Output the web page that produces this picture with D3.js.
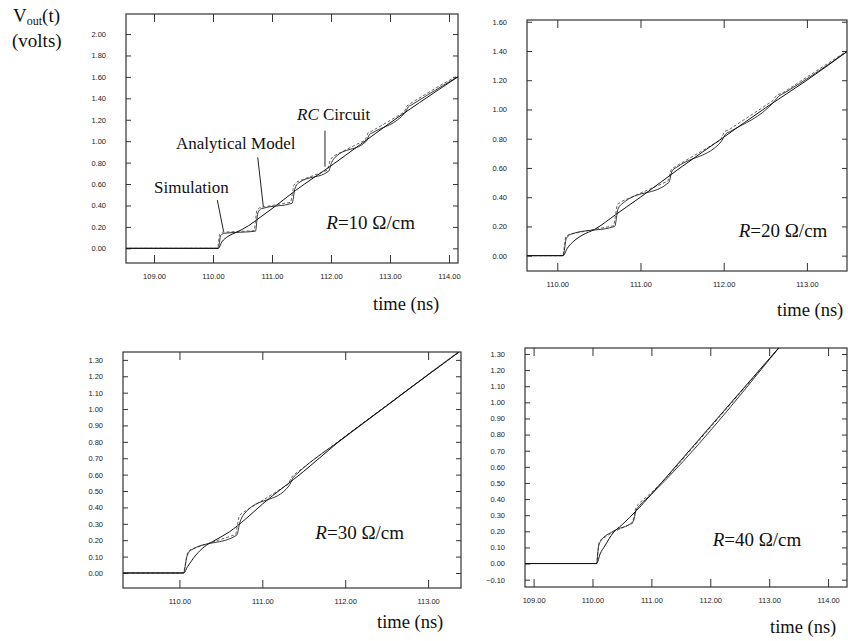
<!DOCTYPE html>
<html lang="en">
<head>
    <meta charset="utf-8">
    <style type="text/css">
        body { margin: 0; background: #fff; }
        .tick text { font-family: "Liberation Sans", Arial, sans-serif; font-size: 7.5px; fill: #222; }
        .tick line { stroke: #333; stroke-width: 1; }
        .frame { fill: none; stroke: #333; stroke-width: 1.2; }
        .big { font-family: "Liberation Serif", "Times New Roman", serif; fill: #111; }
    </style>
</head>
<body>
    <svg width="848" height="641"></svg>
    <script src="https://d3js.org/d3.v7.min.js" type="text/javascript"></script>
    <script type="text/javascript">
        // ---- data (time in ns, Vout in volts) ----
        var xTicks10 = [109, 110, 111, 112, 113, 114];
        var yTicks10 = [0, 0.2, 0.4, 0.6, 0.8, 1.0, 1.2, 1.4, 1.6, 1.8, 2.0];
        var rc10 = [[108.5, 0], [110.09, 0], [110.15, 0.06], [110.25, 0.11], [110.4, 0.15], [110.6, 0.21], [110.8, 0.29],
            [111.0, 0.37], [111.4, 0.54], [112.0, 0.77], [112.5, 0.97], [113.0, 1.17], [113.5, 1.36], [114.15, 1.6]];
        var analytical10 = [[108.5, 0], [110.09, 0], [110.13, 0.12], [110.19, 0.14], [110.72, 0.16], [110.76, 0.33], [110.82, 0.37],
            [111.34, 0.42], [111.39, 0.56], [111.45, 0.61], [111.96, 0.72], [112.01, 0.8], [112.07, 0.85],
            [112.6, 1.0], [112.65, 1.06], [112.71, 1.08], [113.26, 1.27], [113.31, 1.32], [113.37, 1.34], [113.9, 1.52], [114.15, 1.6]];
        var simulation10 = [[108.5, 0], [110.08, 0], [110.11, 0.13], [110.16, 0.15], [110.70, 0.165], [110.74, 0.35], [110.79, 0.38],
            [111.32, 0.43], [111.37, 0.59], [111.42, 0.62], [111.94, 0.73], [111.99, 0.83], [112.04, 0.86],
            [112.58, 1.01], [112.63, 1.08], [112.68, 1.09], [113.24, 1.27], [113.29, 1.33], [113.34, 1.35], [113.88, 1.53], [114.15, 1.61]];

        var xTicks20 = [110, 111, 112, 113];
        var yTicks20 = [0, 0.2, 0.4, 0.6, 0.8, 1.0, 1.2, 1.4, 1.6];
        var rc20 = [[109.6, 0], [110.07, 0], [110.12, 0.05], [110.2, 0.1], [110.3, 0.14], [110.45, 0.18], [110.7, 0.28],
            [111.0, 0.40], [111.5, 0.61], [112.0, 0.81], [112.5, 1.01], [113.0, 1.20], [113.48, 1.395]];
        var analytical20 = [[109.6, 0], [110.07, 0], [110.11, 0.12], [110.18, 0.15], [110.69, 0.2], [110.73, 0.32], [110.79, 0.36],
            [111.34, 0.5], [111.38, 0.58], [111.45, 0.61], [111.97, 0.78], [112.02, 0.83], [112.08, 0.85],
            [112.6, 1.05], [112.66, 1.09], [112.72, 1.11], [113.48, 1.395]];
        var simulation20 = [[109.6, 0], [110.07, 0], [110.1, 0.13], [110.14, 0.145], [110.68, 0.205], [110.72, 0.35], [110.77, 0.37],
            [111.33, 0.51], [111.37, 0.59], [111.42, 0.61], [111.96, 0.79], [112.01, 0.85], [112.06, 0.86],
            [112.59, 1.06], [112.64, 1.1], [112.7, 1.11], [113.48, 1.4]];

        var xTicks30 = [110, 111, 112, 113];
        var yTicks30 = [0, 0.1, 0.2, 0.3, 0.4, 0.5, 0.6, 0.7, 0.8, 0.9, 1.0, 1.1, 1.2, 1.3];
        var rc30 = [[109.3, 0], [110.05, 0], [110.1, 0.04], [110.2, 0.11], [110.3, 0.16], [110.43, 0.2], [110.6, 0.25], [110.8, 0.33],
            [111.0, 0.42], [111.5, 0.62], [111.92, 0.8], [112.5, 1.02], [113.0, 1.21], [113.37, 1.347]];
        var analytical30 = [[109.3, 0], [110.05, 0], [110.09, 0.1], [110.14, 0.14], [110.69, 0.23], [110.73, 0.31], [110.78, 0.36],
            [111.32, 0.53], [111.37, 0.58], [111.43, 0.61], [112.0, 0.83], [113.37, 1.347]];
        var simulation30 = [[109.3, 0], [110.05, 0], [110.1, 0.13], [110.14, 0.145], [110.68, 0.235], [110.72, 0.35], [110.77, 0.37],
            [111.31, 0.54], [111.36, 0.59], [111.42, 0.615], [112.0, 0.835], [113.37, 1.35]];

        var xTicks40 = [109, 110, 111, 112, 113, 114];
        var yTicks40 = [-0.1, 0, 0.1, 0.2, 0.3, 0.4, 0.5, 0.6, 0.7, 0.8, 0.9, 1.0, 1.1, 1.2, 1.3];
        var rc40 = [[108.85, 0], [110.07, 0], [110.13, 0.06], [110.21, 0.11], [110.35, 0.19], [110.5, 0.24], [110.75, 0.33],
            [111.0, 0.43], [111.5, 0.64], [112.0, 0.85], [112.5, 1.06], [113.0, 1.27], [113.16, 1.337]];
        var analytical40 = [[108.85, 0], [110.07, 0], [110.1, 0.1], [110.14, 0.14], [110.35, 0.2], [110.69, 0.26], [110.74, 0.33],
            [110.8, 0.36], [111.0, 0.43], [113.16, 1.337]];
        var simulation40 = [[108.85, 0], [110.07, 0], [110.11, 0.13], [110.15, 0.15], [110.35, 0.195], [110.68, 0.25], [110.73, 0.34],
            [110.78, 0.37], [111.0, 0.44], [111.3, 0.55], [111.35, 0.57], [113.17, 1.337]];

        var rLabels = ["10", "20", "30", "40"];

        // panel frames (pixels) and visible data range
        var panels = [
            { box: [126, 14, 458, 263], xd: [108.525, 114.153], yd: [-0.137, 2.187], xt: xTicks10, yt: yTicks10,
              rc: rc10, an: analytical10, sim: simulation10, r: rLabels[0], rPos: [111.92, 0.18], timePos: [373, 310] },
            { box: [527, 20, 847, 271], xd: [109.636, 113.482], yd: [-0.105, 1.612], xt: xTicks20, yt: yTicks20,
              rc: rc20, an: analytical20, sim: simulation20, r: rLabels[1], rPos: [112.18, 0.13], timePos: [777, 316] },
            { box: [123, 352, 461, 588], xd: [109.319, 113.397], yd: [-0.0915, 1.348], xt: xTicks30, yt: yTicks30,
              rc: rc30, an: analytical30, sim: simulation30, r: rLabels[2], rPos: [111.64, 0.21], timePos: [377, 628] },
            { box: [525, 348, 847, 587], xd: [108.854, 114.321], yd: [-0.1455, 1.337], xt: xTicks40, yt: yTicks40,
              rc: rc40, an: analytical40, sim: simulation40, r: rLabels[3], rPos: [112.04, 0.11], timePos: [770, 633] }
        ];

        var svg = d3.select("svg");
        var fmt = d3.format(".2f");

        panels.forEach(function (p, i) {
            var x0 = p.box[0], y0 = p.box[1], x1 = p.box[2], y1 = p.box[3];
            var x = d3.scaleLinear().domain(p.xd).range([x0, x1]);
            var y = d3.scaleLinear().domain(p.yd).range([y1, y0]);
            p.x = x; p.y = y;

            svg.append("clipPath").attr("id", "clip" + i)
                .append("rect").attr("x", x0).attr("y", y0).attr("width", x1 - x0).attr("height", y1 - y0);

            // inward ticks on all four sides
            svg.append("g").attr("transform", "translate(0," + y1 + ")")
                .call(d3.axisBottom(x).tickValues(p.xt).tickSizeInner(-8).tickSizeOuter(0).tickPadding(10.5).tickFormat(fmt))
                .call(function (g) { g.select(".domain").remove(); });
            svg.append("g").attr("transform", "translate(0," + y0 + ")")
                .call(d3.axisTop(x).tickValues(p.xt).tickSizeInner(-8).tickSizeOuter(0).tickFormat(""))
                .call(function (g) { g.select(".domain").remove(); });
            svg.append("g").attr("transform", "translate(" + x0 + ",0)")
                .call(d3.axisLeft(y).tickValues(p.yt).tickSizeInner(-5).tickSizeOuter(0).tickPadding(20).tickFormat(fmt))
                .call(function (g) { g.select(".domain").remove(); });
            svg.append("g").attr("transform", "translate(" + x1 + ",0)")
                .call(d3.axisRight(y).tickValues(p.yt).tickSizeInner(-5).tickSizeOuter(0).tickFormat(""))
                .call(function (g) { g.select(".domain").remove(); });

            svg.append("rect").attr("class", "frame")
                .attr("x", x0).attr("y", y0).attr("width", x1 - x0).attr("height", y1 - y0);

            var line = d3.line().x(function (d) { return x(d[0]); }).y(function (d) { return y(d[1]); });
            var curves = svg.append("g").attr("clip-path", "url(#clip" + i + ")").attr("fill", "none");

            curves.append("path").datum(p.sim)
                .attr("d", line)
                .attr("stroke", "#555").attr("stroke-width", 0.9).attr("stroke-dasharray", "3,2");
            curves.append("path").datum(p.an)
                .attr("d", line.curve(d3.curveMonotoneX))
                .attr("stroke", "#222").attr("stroke-width", 0.9);
            curves.append("path").datum(p.rc)
                .attr("d", line.curve(d3.curveMonotoneX))
                .attr("stroke", "#111").attr("stroke-width", 1);

            // R label
            var rt = svg.append("text").attr("class", "big")
                .attr("x", x(p.rPos[0])).attr("y", y(p.rPos[1]))
                .attr("font-size", 19);
            rt.append("tspan").attr("font-style", "italic").text("R");
            rt.append("tspan").text("=" + p.r + " \u03A9/cm");

            svg.append("text").attr("class", "big")
                .attr("x", p.timePos[0]).attr("y", p.timePos[1])
                .attr("font-size", 18.5)
                .text("time (ns)");
        });

        // y-axis title
        var vt = svg.append("text").attr("class", "big").attr("x", 13).attr("y", 22).attr("font-size", 19);
        vt.append("tspan").text("V");
        vt.append("tspan").attr("font-size", 12).attr("dy", 3).text("out");
        vt.append("tspan").attr("dy", -3).text("(t)");
        svg.append("text").attr("class", "big").attr("x", 12).attr("y", 46.5).attr("font-size", 19).text("(volts)");

        // curve annotations on the first panel (data coordinates)
        var p0 = panels[0];
        var notes = [
            { text: "Simulation", at: [109.0, 0.519], from: [110.073, 0.45], to: [110.18, 0.155], italic: "" },
            { text: "Analytical Model", at: [109.373, 0.927], from: [110.758, 0.849], to: [110.853, 0.388], italic: "" },
            { text: " Circuit", at: [111.424, 1.197], from: [111.898, 1.098], to: [111.898, 0.762], italic: "RC" }
        ];
        notes.forEach(function (n) {
            var t = svg.append("text").attr("class", "big")
                .attr("x", p0.x(n.at[0])).attr("y", p0.y(n.at[1])).attr("font-size", 17);
            if (n.italic) t.append("tspan").attr("font-style", "italic").text(n.italic);
            t.append("tspan").text(n.text);
            svg.append("line")
                .attr("x1", p0.x(n.from[0])).attr("y1", p0.y(n.from[1]))
                .attr("x2", p0.x(n.to[0])).attr("y2", p0.y(n.to[1]))
                .attr("stroke", "#222").attr("stroke-width", 1);
        });
    </script>
</body>
</html>
